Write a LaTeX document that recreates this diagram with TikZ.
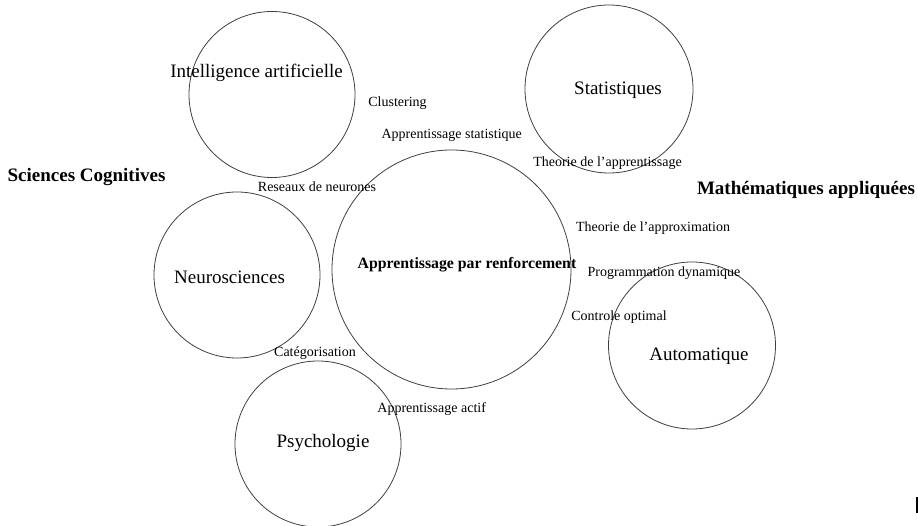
\documentclass[tikz,border=0pt]{standalone}
\usepackage{fontspec}
\setmainfont{Liberation Serif}
\begin{document}
\begin{tikzpicture}[x=1pt,y=-1pt,
  ring/.style={circle,draw=black!75,line width=0.8pt,inner sep=0pt},
  big/.style={font=\fontsize{19}{21}\selectfont,inner sep=0pt},
  small/.style={font=\fontsize{14}{16}\selectfont,inner sep=0pt},
  head/.style={font=\fontsize{19}{21}\selectfont\bfseries,inner sep=0pt},
  mid/.style={font=\fontsize{15.8}{18}\selectfont\bfseries,inner sep=0pt}]
\path[use as bounding box,fill=white] (0,0) rectangle (918,526);
% circles
\node[ring,minimum size=166pt] (cia) at (272,94.5) {};
\node[ring,minimum size=168pt] (cstat) at (609,89) {};
\node[ring,minimum size=166pt] (cneuro) at (237,275) {};
\node[ring,minimum size=239pt] (crl) at (451.5,269.5) {};
\node[ring,minimum size=167pt] (cauto) at (692,345.5) {};
\node[ring,minimum size=166pt] (cpsy) at (318,444) {};
% circle labels
\node[big] (lia) at (256.5,73) {Intelligence artificielle};
\node[big] (lstat) at (618,90) {Statistiques};
\node[big] (lneuro) at (229.5,277) {Neurosciences};
\node[big] (lauto) at (699,356) {Automatique};
\node[big] (lpsy) at (323,443) {Psychologie};
\node[mid] (lrl) at (467,265) {Apprentissage par renforcement};
% headings
\node[head] (hsc) at (86.5,177) {Sciences Cognitives};
\node[head] (hma) at (806,190) {Mathématiques appliquées};
% small labels
\node[small] (t1) at (397.5,103) {Clustering};
\node[small] (t2) at (451.7,135) {Apprentissage statistique};
\node[small] (t3) at (317,187) {Reseaux de neurones};
\node[small] (t4) at (607.5,163) {Theorie de l’apprentissage};
\node[small] (t5) at (653,228) {Theorie de l’approximation};
\node[small] (t6) at (664,273) {Programmation dynamique};
\node[small] (t7) at (619,317) {Controle optimal};
\node[small] (t8) at (315,353) {Catégorisation};
\node[small] (t9) at (431.7,409) {Apprentissage actif};
% small mark bottom right
\coordinate (m1) at (916.5,497);
\coordinate (m2) at (916.5,513);
\draw[line width=2pt] (m1) -- (m2);
\end{tikzpicture}
\end{document}
